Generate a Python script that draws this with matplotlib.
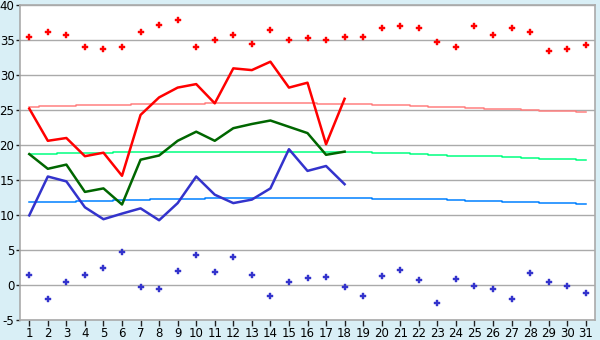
import numpy as np
import matplotlib
matplotlib.use("Agg")
import matplotlib.pyplot as plt

plt.rcParams["axes.unicode_minus"] = False

days = np.arange(1, 32)

# daily observations (first 18 days)
obs_days = np.arange(1, 19)
tmax = [25.2, 20.6, 21.0, 18.4, 18.9, 15.6, 24.3, 26.8, 28.2, 28.7, 25.95, 30.95,
        30.7, 31.9, 28.2, 28.9, 20.1, 26.6]
tmean = [18.7, 16.6, 17.2, 13.3, 13.8, 11.5, 17.9, 18.5, 20.6, 21.9, 20.6, 22.4,
         23.0, 23.5, 22.6, 21.7, 18.6, 19.05]
tmin = [9.95, 15.5, 14.8, 11.1, 9.4, 10.2, 10.95, 9.25, 11.7, 15.5, 12.9, 11.7,
        12.2, 13.8, 19.4, 16.3, 17.0, 14.4]

# record values per day
rec_max = [35.4, 36.2, 35.7, 33.95, 33.65, 33.95, 36.1, 37.1, 37.8, 33.95, 34.95,
           35.65, 34.5, 36.4, 34.95, 35.25, 34.95, 35.4, 35.4, 36.65, 36.95, 36.65,
           34.65, 33.95, 36.95, 35.65, 36.65, 36.1, 33.5, 33.65, 34.25]
rec_min = [1.4, -2.05, 0.4, 1.4, 2.4, 4.65, -0.35, -0.6, 1.95, 4.25, 1.8, 3.95,
           1.4, -1.5, 0.4, 0.95, 1.1, -0.35, -1.6, 1.25, 2.1, 0.65, -2.5, 0.8,
           -0.2, -0.5, -2.05, 1.65, 0.5, -0.2, -1.2]

# climate normals
norm_max = [25.5, 25.55, 25.6, 25.65, 25.7, 25.75, 25.8, 25.85, 25.9, 25.9, 25.95,
            25.95, 25.95, 25.95, 25.95, 25.95, 25.9, 25.85, 25.8, 25.75, 25.7, 25.6,
            25.5, 25.4, 25.3, 25.2, 25.1, 25.0, 24.9, 24.8, 24.65]
norm_mean = [18.7, 18.75, 18.8, 18.85, 18.9, 18.95, 19.0, 19.0, 19.05, 19.05, 19.05,
             19.05, 19.05, 19.05, 19.05, 19.05, 19.0, 19.0, 19.0, 18.9, 18.8, 18.7,
             18.6, 18.5, 18.45, 18.4, 18.3, 18.15, 18.05, 18.0, 17.85]
norm_min = [11.8, 11.85, 11.9, 11.95, 12.0, 12.1, 12.2, 12.25, 12.3, 12.35, 12.4,
            12.45, 12.5, 12.5, 12.5, 12.5, 12.45, 12.4, 12.4, 12.35, 12.35, 12.3,
            12.25, 12.15, 12.05, 11.95, 11.9, 11.8, 11.7, 11.65, 11.55]

bg = "#d9eff6"
grid = "#aaaaaa"

fig = plt.figure(figsize=(6, 3.4), dpi=100, facecolor=bg)
ax = fig.add_axes([20 / 600, 20 / 340, 575 / 600, 315 / 340])
ax.set_facecolor("white")

ax.plot(days, norm_max, color="#ff8080", lw=1.1, drawstyle="steps-mid")
ax.plot(days, norm_mean, color="#00ff80", lw=1.1, drawstyle="steps-mid")
ax.plot(days, norm_min, color="#0080ff", lw=1.1, drawstyle="steps-mid")

ax.plot(obs_days, tmax, color="#ff0000", lw=1.8)
ax.plot(obs_days, tmean, color="#006600", lw=1.8)
ax.plot(obs_days, tmin, color="#3333cc", lw=1.8)

ax.plot(days, rec_max, ls="none", marker="P", ms=5, color="#ff0000", mec="#ff0000", mew=0.3)
ax.plot(days, rec_min, ls="none", marker="P", ms=5, color="#3333cc", mec="#3333cc", mew=0.3)

ax.set_xlim(0.5, 31.5)
ax.set_ylim(-5, 40)
ax.set_xticks(days)
ax.set_yticks(np.arange(-5, 41, 5))
ax.yaxis.grid(True, color=grid, lw=1)
ax.set_axisbelow(True)
for s in ax.spines.values():
    s.set_color(grid)
    s.set_linewidth(1.2)
ax.tick_params(axis="both", colors="#222222", labelcolor="black", labelsize=8.5, width=1)
ax.tick_params(axis="y", length=3, pad=1)
ax.tick_params(axis="x", length=4, pad=1)

fig.savefig("out.png", dpi=100, facecolor=bg)
